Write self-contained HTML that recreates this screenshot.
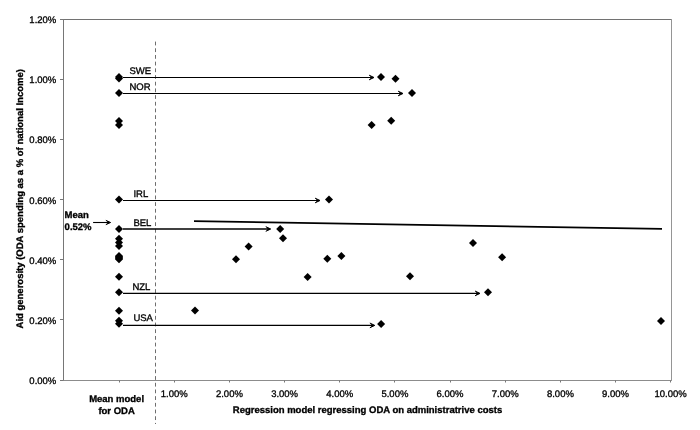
<!DOCTYPE html>
<html><head><meta charset="utf-8"><style>
html,body{margin:0;padding:0;background:#fff;}
svg{display:block;will-change:transform;}
text{text-rendering:geometricPrecision;stroke:#000;stroke-width:0.32px;font-family:"Liberation Sans",sans-serif;font-size:9.5px;fill:#000;}
</style></head><body>
<svg width="700" height="430" viewBox="0 0 700 430">
<rect width="700" height="430" fill="#fff"/>
<path d="M63 19.5 H671" fill="none" stroke="#727272" stroke-width="1"/>
<path d="M671.5 19 V381" fill="none" stroke="#959595" stroke-width="1"/>
<path d="M63.5 19 V380" fill="none" stroke="#767676" stroke-width="1"/>
<path d="M63 380.5 H671" fill="none" stroke="#8c8c8c" stroke-width="1"/>
<path d="M60 380.5 H63.5" stroke="#777777" stroke-width="1"/>
<text x="56.3" y="383.9" text-anchor="end">0.00%</text>
<path d="M60 319.5 H63.5" stroke="#777777" stroke-width="1"/>
<text x="56.3" y="323.8" text-anchor="end">0.20%</text>
<path d="M60 259.5 H63.5" stroke="#777777" stroke-width="1"/>
<text x="56.3" y="263.6" text-anchor="end">0.40%</text>
<path d="M60 199.5 H63.5" stroke="#777777" stroke-width="1"/>
<text x="56.3" y="203.5" text-anchor="end">0.60%</text>
<path d="M60 139.5 H63.5" stroke="#777777" stroke-width="1"/>
<text x="56.3" y="143.4" text-anchor="end">0.80%</text>
<path d="M60 79.5 H63.5" stroke="#777777" stroke-width="1"/>
<text x="56.3" y="83.2" text-anchor="end">1.00%</text>
<path d="M60 19.5 H63.5" stroke="#777777" stroke-width="1"/>
<text x="56.3" y="23.1" text-anchor="end">1.20%</text>
<path d="M119.5 380.5 V382.5" stroke="#777777" stroke-width="1"/>
<path d="M174.5 380.5 V382.5" stroke="#777777" stroke-width="1"/>
<text x="174.3" y="397.3" text-anchor="middle">1.00%</text>
<path d="M229.5 380.5 V382.5" stroke="#777777" stroke-width="1"/>
<text x="229.4" y="397.3" text-anchor="middle">2.00%</text>
<path d="M284.5 380.5 V382.5" stroke="#777777" stroke-width="1"/>
<text x="284.6" y="397.3" text-anchor="middle">3.00%</text>
<path d="M339.5 380.5 V382.5" stroke="#777777" stroke-width="1"/>
<text x="339.8" y="397.3" text-anchor="middle">4.00%</text>
<path d="M394.5 380.5 V382.5" stroke="#777777" stroke-width="1"/>
<text x="394.9" y="397.3" text-anchor="middle">5.00%</text>
<path d="M450.5 380.5 V382.5" stroke="#777777" stroke-width="1"/>
<text x="450.0" y="397.3" text-anchor="middle">6.00%</text>
<path d="M505.5 380.5 V382.5" stroke="#777777" stroke-width="1"/>
<text x="505.2" y="397.3" text-anchor="middle">7.00%</text>
<path d="M560.5 380.5 V382.5" stroke="#777777" stroke-width="1"/>
<text x="560.4" y="397.3" text-anchor="middle">8.00%</text>
<path d="M615.5 380.5 V382.5" stroke="#777777" stroke-width="1"/>
<text x="615.5" y="397.3" text-anchor="middle">9.00%</text>
<path d="M670.5 380.5 V382.5" stroke="#777777" stroke-width="1"/>
<text x="670.6" y="397.3" text-anchor="middle">10.00%</text>
<text x="367.5" y="412.9" text-anchor="middle" font-weight="bold">Regression model regressing ODA on administratrive costs</text>
<text transform="translate(22.6 198.8) rotate(-90)" text-anchor="middle" font-weight="bold">Aid generosity (ODA spending as a % of national Income)</text>
<text x="116.6" y="401.8" text-anchor="middle" font-weight="bold">Mean model</text>
<text x="116.6" y="413.7" text-anchor="middle" font-weight="bold">for ODA</text>
<text x="64.6" y="217.8" font-weight="bold">Mean</text>
<text x="64.6" y="230" font-weight="bold">0.52%</text>
<path d="M155.5 41.6 V424" stroke="#6e6e6e" stroke-width="1" stroke-dasharray="3.8 2.89"/>
<path d="M194 221.1 L662 228.9" stroke="#000" stroke-width="1.7"/>
<path d="M123 77.5 H372.4" stroke="#000" stroke-width="1.1"/><path d="M374 77.5 L369.4 75.3 L371.0 77.5 L369.4 79.7 Z" fill="#000"/><path d="M369.4 75.3 L374 77.5 L369.4 79.7" fill="none" stroke="#000" stroke-width="1.0" stroke-linecap="round" stroke-linejoin="round"/>
<path d="M123 93.5 H401.4" stroke="#000" stroke-width="1.1"/><path d="M403 93.5 L398.4 91.3 L400.0 93.5 L398.4 95.7 Z" fill="#000"/><path d="M398.4 91.3 L403 93.5 L398.4 95.7" fill="none" stroke="#000" stroke-width="1.0" stroke-linecap="round" stroke-linejoin="round"/>
<path d="M123 200.5 H318.4" stroke="#000" stroke-width="1.1"/><path d="M320 200.5 L315.4 198.3 L317.0 200.5 L315.4 202.7 Z" fill="#000"/><path d="M315.4 198.3 L320 200.5 L315.4 202.7" fill="none" stroke="#000" stroke-width="1.0" stroke-linecap="round" stroke-linejoin="round"/>
<path d="M123 229.0 H269.09999999999997" stroke="#000" stroke-width="1.4"/><path d="M270.7 229.0 L266.09999999999997 226.8 L267.7 229.0 L266.09999999999997 231.2 Z" fill="#000"/><path d="M266.09999999999997 226.8 L270.7 229.0 L266.09999999999997 231.2" fill="none" stroke="#000" stroke-width="1.0" stroke-linecap="round" stroke-linejoin="round"/>
<path d="M123 293.4 H478.4" stroke="#000" stroke-width="1.1"/><path d="M480 293.4 L475.4 291.2 L477.0 293.4 L475.4 295.59999999999997 Z" fill="#000"/><path d="M475.4 291.2 L480 293.4 L475.4 295.59999999999997" fill="none" stroke="#000" stroke-width="1.0" stroke-linecap="round" stroke-linejoin="round"/>
<path d="M123 325.4 H373.2" stroke="#000" stroke-width="1.1"/><path d="M374.8 325.4 L370.2 323.2 L371.8 325.4 L370.2 327.59999999999997 Z" fill="#000"/><path d="M370.2 323.2 L374.8 325.4 L370.2 327.59999999999997" fill="none" stroke="#000" stroke-width="1.0" stroke-linecap="round" stroke-linejoin="round"/>
<path d="M93.1 222.5 H109.0" stroke="#000" stroke-width="1.1"/><path d="M110.6 222.5 L106.19999999999999 220.5 L107.79999999999998 222.5 L106.19999999999999 224.5 Z" fill="#000"/><path d="M106.19999999999999 220.5 L110.6 222.5 L106.19999999999999 224.5" fill="none" stroke="#000" stroke-width="1.0" stroke-linecap="round" stroke-linejoin="round"/>
<text x="129.4" y="73.7">SWE</text>
<text x="129.4" y="90.1">NOR</text>
<text x="133.4" y="196.6">IRL</text>
<text x="133.4" y="225.8">BEL</text>
<text x="132.4" y="290.4">NZL</text>
<text x="133.4" y="320.7">USA</text>
<g fill="#000"><path d="M119 73.0 L123.0 77 L119 81.0 L115.0 77 Z"/><path d="M119 74.5 L123.0 78.5 L119 82.5 L115.0 78.5 Z"/><path d="M119 89.0 L123.0 93 L119 97.0 L115.0 93 Z"/><path d="M119 117.0 L123.0 121 L119 125.0 L115.0 121 Z"/><path d="M119 121.0 L123.0 125 L119 129.0 L115.0 125 Z"/><path d="M119 195.5 L123.0 199.5 L119 203.5 L115.0 199.5 Z"/><path d="M119 225.0 L123.0 229 L119 233.0 L115.0 229 Z"/><path d="M119 234.8 L123.0 238.8 L119 242.8 L115.0 238.8 Z"/><path d="M119 238.5 L123.0 242.5 L119 246.5 L115.0 242.5 Z"/><path d="M119 242.0 L123.0 246 L119 250.0 L115.0 246 Z"/><path d="M119 252.0 L123.0 256 L119 260.0 L115.0 256 Z"/><path d="M119 252.8 L123.0 256.8 L119 260.8 L115.0 256.8 Z"/><path d="M119 253.60000000000002 L123.0 257.6 L119 261.6 L115.0 257.6 Z"/><path d="M119 254.39999999999998 L123.0 258.4 L119 262.4 L115.0 258.4 Z"/><path d="M119 255.2 L123.0 259.2 L119 263.2 L115.0 259.2 Z"/><path d="M119 272.8 L123.0 276.8 L119 280.8 L115.0 276.8 Z"/><path d="M119 288.3 L123.0 292.3 L119 296.3 L115.0 292.3 Z"/><path d="M119 306.7 L123.0 310.7 L119 314.7 L115.0 310.7 Z"/><path d="M119 316.8 L123.0 320.8 L119 324.8 L115.0 320.8 Z"/><path d="M119 319.8 L123.0 323.8 L119 327.8 L115.0 323.8 Z"/><path d="M381 73.0 L385.0 77 L381 81.0 L377.0 77 Z"/><path d="M395.5 74.8 L399.5 78.8 L395.5 82.8 L391.5 78.8 Z"/><path d="M412 89.0 L416.0 93 L412 97.0 L408.0 93 Z"/><path d="M371.6 121.0 L375.6 125 L371.6 129.0 L367.6 125 Z"/><path d="M391.2 116.8 L395.2 120.8 L391.2 124.8 L387.2 120.8 Z"/><path d="M329 195.5 L333.0 199.5 L329 203.5 L325.0 199.5 Z"/><path d="M280.2 225.0 L284.2 229 L280.2 233.0 L276.2 229 Z"/><path d="M283 234.3 L287.0 238.3 L283 242.3 L279.0 238.3 Z"/><path d="M248.6 242.6 L252.6 246.6 L248.6 250.6 L244.6 246.6 Z"/><path d="M236 255.3 L240.0 259.3 L236 263.3 L232.0 259.3 Z"/><path d="M327.3 254.7 L331.3 258.7 L327.3 262.7 L323.3 258.7 Z"/><path d="M341.4 251.9 L345.4 255.9 L341.4 259.9 L337.4 255.9 Z"/><path d="M307.6 272.9 L311.6 276.9 L307.6 280.9 L303.6 276.9 Z"/><path d="M410 272.2 L414.0 276.2 L410 280.2 L406.0 276.2 Z"/><path d="M473 239.0 L477.0 243 L473 247.0 L469.0 243 Z"/><path d="M502.1 253.2 L506.1 257.2 L502.1 261.2 L498.1 257.2 Z"/><path d="M488 288.3 L492.0 292.3 L488 296.3 L484.0 292.3 Z"/><path d="M195 306.6 L199.0 310.6 L195 314.6 L191.0 310.6 Z"/><path d="M381.1 320.1 L385.1 324.1 L381.1 328.1 L377.1 324.1 Z"/><path d="M661 317.0 L665.0 321 L661 325.0 L657.0 321 Z"/></g>
</svg>
</body></html>
